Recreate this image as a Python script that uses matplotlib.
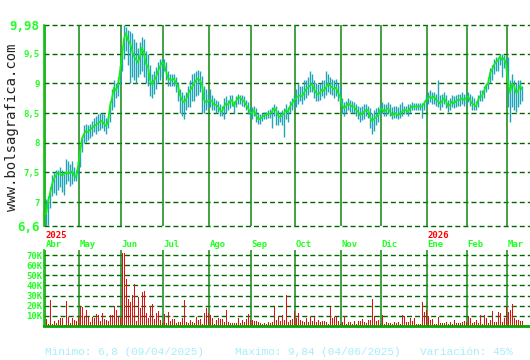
import numpy as np
import matplotlib
matplotlib.use("Agg")
import matplotlib.pyplot as plt

# meses del grafico y numero de sesiones de cada uno
months = ["Abr", "May", "Jun", "Jul", "Ago", "Sep", "Oct", "Nov", "Dic", "Ene", "Feb", "Mar"]
month_days = [17, 21, 21, 23, 21, 22, 23, 20, 23, 20, 20, 8]
years = {"Abr": "2025", "Ene": "2026"}

# cierres diarios
close = [
    6.8, 7.0, 7.15, 7.3, 7.4, 7.45, 7.5, 7.48, 7.45, 7.47, 7.5, 7.48, 7.5, 7.52, 7.45, 7.42, 7.6,
    7.84, 8.07, 8.15, 8.2, 8.18, 8.22, 8.25, 8.28, 8.3, 8.33, 8.35, 8.37, 8.32, 8.28, 8.35, 8.62, 8.75, 8.93, 8.88, 8.97, 9.2,
    9.48, 9.75, 9.84, 9.72, 9.68, 9.55, 9.45, 9.4, 9.35, 9.45, 9.6, 9.5, 9.32, 9.28, 9.05, 8.98, 9.05, 9.1, 9.2, 9.28, 9.35,
    9.33, 9.2, 9.08, 9.07, 9.05, 9.08, 9.0, 8.95, 8.8, 8.72, 8.68, 8.72, 8.82, 8.88, 8.93, 9.0, 9.05, 9.08, 9.05, 8.97, 8.72, 8.68, 8.7,
    8.72, 8.7, 8.64, 8.64, 8.61, 8.55, 8.52, 8.61, 8.66, 8.64, 8.7, 8.72, 8.61, 8.7, 8.76, 8.76, 8.72, 8.7, 8.64, 8.58, 8.52,
    8.49, 8.55, 8.46, 8.4, 8.4, 8.43, 8.46, 8.46, 8.49, 8.49, 8.52, 8.58, 8.55, 8.46, 8.43, 8.46, 8.49, 8.55, 8.52, 8.61, 8.66, 8.72,
    8.75, 8.78, 8.8, 8.78, 8.84, 8.9, 8.93, 8.96, 8.99, 8.9, 8.84, 8.81, 8.84, 8.9, 8.87, 8.93, 8.99, 8.96, 8.93, 8.9, 8.93, 8.84, 8.78,
    8.64, 8.58, 8.61, 8.66, 8.64, 8.61, 8.61, 8.55, 8.52, 8.46, 8.49, 8.52, 8.55, 8.55, 8.43, 8.37, 8.4, 8.43, 8.46, 8.55,
    8.58, 8.52, 8.55, 8.58, 8.52, 8.46, 8.49, 8.49, 8.46, 8.49, 8.52, 8.55, 8.55, 8.52, 8.58, 8.61, 8.61, 8.61, 8.61, 8.61, 8.61, 8.66, 8.72,
    8.75, 8.78, 8.75, 8.78, 8.72, 8.7, 8.66, 8.7, 8.75, 8.7, 8.61, 8.64, 8.7, 8.66, 8.7, 8.72, 8.72, 8.75, 8.72, 8.75,
    8.78, 8.72, 8.66, 8.64, 8.61, 8.72, 8.78, 8.78, 8.87, 8.96, 8.99, 9.17, 9.23, 9.31, 9.36, 9.39, 9.45, 9.39, 9.42, 9.33,
    9.02, 8.84, 8.99, 8.96, 8.84, 8.87, 8.96, 8.9,
]
high = [
    7.05, 7.1, 7.25, 7.45, 7.5, 7.55, 7.55, 7.6, 7.55, 7.5, 7.72, 7.7, 7.65, 7.7, 7.6, 7.55, 7.7,
    7.9, 8.12, 8.3, 8.32, 8.3, 8.32, 8.36, 8.42, 8.45, 8.48, 8.5, 8.5, 8.48, 8.42, 8.45, 8.7, 8.9, 9.05, 9.0, 9.1, 9.3,
    9.6, 9.98, 9.95, 9.9, 9.88, 9.85, 9.75, 9.7, 9.6, 9.7, 9.78, 9.75, 9.55, 9.5, 9.3, 9.15, 9.2, 9.28, 9.35, 9.4, 9.42,
    9.4, 9.35, 9.2, 9.15, 9.15, 9.15, 9.1, 9.02, 8.9, 8.85, 8.8, 8.85, 8.95, 9.05, 9.15, 9.18, 9.2, 9.22, 9.2, 9.12, 8.95, 8.9, 8.82,
    8.9, 8.8, 8.75, 8.72, 8.7, 8.65, 8.62, 8.75, 8.78, 8.72, 8.8, 8.8, 8.7, 8.78, 8.82, 8.8, 8.8, 8.78, 8.72, 8.68, 8.6,
    8.6, 8.62, 8.58, 8.5, 8.48, 8.5, 8.52, 8.52, 8.55, 8.56, 8.6, 8.65, 8.62, 8.55, 8.52, 8.55, 8.58, 8.65, 8.6, 8.7, 8.75, 8.8,
    8.9, 9.0, 8.95, 8.95, 9.05, 9.05, 9.1, 9.2, 9.15, 9.05, 9.0, 8.98, 9.0, 9.05, 9.05, 9.2, 9.15, 9.1, 9.08, 9.05, 9.08, 9.0, 8.95,
    8.75, 8.68, 8.7, 8.75, 8.72, 8.7, 8.68, 8.65, 8.62, 8.6, 8.62, 8.65, 8.65, 8.62, 8.58, 8.5, 8.55, 8.58, 8.6, 8.65,
    8.68, 8.65, 8.65, 8.68, 8.65, 8.6, 8.62, 8.62, 8.6, 8.65, 8.68, 8.62, 8.62, 8.65, 8.65, 8.68, 8.66, 8.66, 8.66, 8.66, 8.66, 8.7, 8.8,
    8.85, 8.88, 8.85, 8.85, 8.82, 9.05, 8.8, 8.82, 8.85, 8.8, 8.72, 8.75, 8.8, 8.78, 8.8, 8.82, 8.82, 8.85, 8.82, 8.82,
    8.85, 8.82, 8.78, 8.75, 8.7, 8.8, 8.88, 8.88, 8.95, 9.0, 9.1, 9.25, 9.3, 9.4, 9.45, 9.45, 9.5, 9.5, 9.48, 9.45,
    9.45, 9.05, 9.15, 9.05, 9.0, 9.05, 9.05, 8.95,
]
low = [
    6.6, 6.62, 6.9, 7.1, 7.15, 7.12, 7.2, 7.25, 7.18, 7.12, 7.3, 7.35, 7.28, 7.3, 7.35, 7.36, 7.4,
    7.6, 7.85, 8.0, 8.02, 8.05, 8.08, 8.12, 8.18, 8.15, 8.2, 8.22, 8.25, 8.2, 8.15, 8.25, 8.35, 8.55, 8.6, 8.75, 8.78, 8.95,
    9.2, 9.4, 9.55, 9.3, 9.0, 9.1, 9.05, 9.0, 9.1, 9.15, 9.2, 9.1, 9.0, 8.95, 8.78, 8.75, 8.82, 8.9, 9.0, 9.05, 9.1,
    9.2, 9.05, 8.95, 8.95, 8.95, 8.95, 8.85, 8.7, 8.5, 8.45, 8.4, 8.55, 8.6, 8.6, 8.7, 8.7, 8.78, 8.8, 8.85, 8.5, 8.5, 8.55, 8.6,
    8.6, 8.55, 8.55, 8.5, 8.52, 8.45, 8.45, 8.4, 8.5, 8.55, 8.58, 8.62, 8.5, 8.6, 8.65, 8.65, 8.62, 8.6, 8.55, 8.48, 8.42,
    8.4, 8.45, 8.35, 8.32, 8.32, 8.36, 8.4, 8.4, 8.42, 8.42, 8.25, 8.45, 8.3, 8.3, 8.35, 8.3, 8.1, 8.4, 8.35, 8.5, 8.55, 8.6,
    8.6, 8.65, 8.7, 8.65, 8.72, 8.75, 8.8, 8.85, 8.85, 8.75, 8.7, 8.7, 8.72, 8.78, 8.75, 8.8, 8.85, 8.82, 8.8, 8.75, 8.78, 8.7, 8.65,
    8.5, 8.45, 8.5, 8.55, 8.52, 8.5, 8.5, 8.45, 8.4, 8.35, 8.38, 8.4, 8.45, 8.42, 8.25, 8.15, 8.2, 8.3, 8.35, 8.45,
    8.5, 8.45, 8.45, 8.48, 8.45, 8.4, 8.42, 8.42, 8.4, 8.42, 8.45, 8.48, 8.48, 8.45, 8.5, 8.55, 8.55, 8.55, 8.55, 8.55, 8.42, 8.55, 8.6,
    8.65, 8.68, 8.65, 8.65, 8.62, 8.6, 8.55, 8.6, 8.65, 8.58, 8.52, 8.55, 8.6, 8.58, 8.6, 8.62, 8.62, 8.65, 8.62, 8.65,
    8.68, 8.62, 8.55, 8.55, 8.55, 8.6, 8.7, 8.7, 8.75, 8.85, 8.9, 9.0, 9.05, 9.15, 9.2, 9.2, 9.3, 9.1, 9.25, 9.2,
    8.6, 8.35, 8.6, 8.55, 8.52, 8.6, 8.65, 8.7,
]
# volumen en miles
volume = [
    7, 2, 26, 2, 5, 3, 6, 8, 8, 1, 25, 9, 3, 8, 6, 5, 9,
    19, 19, 10, 16, 9, 4, 9, 8, 12, 11, 5, 13, 7, 6, 5, 11, 11, 20, 16, 9, 8,
    72, 72, 46, 27, 24, 31, 41, 5, 29, 18, 34, 35, 13, 8, 20, 22, 7, 13, 15, 6, 3,
    12, 3, 14, 5, 7, 7, 3, 4, 4, 8, 26, 4, 3, 6, 4, 3, 9, 6, 7, 2, 13, 18, 13,
    11, 8, 2, 6, 8, 7, 7, 4, 16, 4, 3, 3, 3, 3, 8, 3, 6, 4, 7, 12, 6,
    6, 5, 5, 4, 3, 2, 3, 2, 4, 3, 4, 19, 6, 9, 5, 11, 6, 31, 4, 6, 7, 15,
    8, 13, 6, 5, 4, 8, 4, 9, 5, 9, 4, 6, 4, 5, 5, 4, 2, 19, 8, 9, 9, 5, 2,
    4, 10, 2, 4, 4, 2, 5, 2, 5, 5, 7, 4, 3, 6, 6, 27, 10, 5, 6, 2,
    11, 2, 4, 3, 3, 2, 4, 3, 4, 2, 11, 10, 4, 4, 8, 5, 8, 2, 2, 2, 24, 14, 16,
    10, 6, 7, 2, 2, 9, 3, 3, 3, 4, 2, 4, 2, 6, 3, 3, 3, 4, 5, 4,
    10, 8, 3, 4, 6, 3, 11, 2, 11, 8, 3, 6, 15, 4, 4, 14, 13, 4, 8, 20,
    14, 16, 22, 8, 6, 6, 5, 5,
]
price_ticks = [6.6, 7, 7.5, 8, 8.5, 9, 9.5, 9.98]
price_labels = ["6,6", "7", "7,5", "8", "8,5", "9", "9,5", "9,98"]
vol_ticks = [10, 20, 30, 40, 50, 60, 70]
vol_labels = ["10K", "20K", "30K", "40K", "50K", "60K", "70K"]

LIME = "#22ff22"
GRID = "#006600"
VLINE = "#118811"
MONO = "DejaVu Sans Mono"
DASH = (0, (3.6, 2.2))

W, H = 530, 360
fig = plt.figure(figsize=(W / 100, H / 100), dpi=100, facecolor="white")

x = np.arange(len(close))
starts = np.concatenate([[0], np.cumsum(month_days)[:-1]]) - 0.5

# panel de precios
ax = fig.add_axes([44 / W, (H - 226) / H, 486 / W, 201 / H])
ax.set_xlim(-1, 242)
ax.set_ylim(6.6, 9.98)
for t in price_ticks:
    ax.axhline(t, color=GRID, lw=1.0, ls=DASH, clip_on=False, zorder=1)
for s in starts:
    ax.axvline(s, color=VLINE, lw=1.1, zorder=1)
ax.vlines(x, low, high, color="#1fa5b5", lw=1.0, zorder=2)
ax.plot(x, close, color="#11ee11", lw=1.2, zorder=3)
for sp in ["top", "right", "bottom"]:
    ax.spines[sp].set_visible(False)
ax.spines["left"].set_color("#00cc00")
ax.spines["left"].set_linewidth(1.2)
ax.set_xticks([])
ax.set_yticks(price_ticks)
ax.set_yticklabels(price_labels)
ax.tick_params(axis="y", length=0, pad=3, labelcolor=LIME)
for lab in ax.get_yticklabels():
    lab.set_family(MONO)
    lab.set_fontsize(9 if lab.get_text() in ("9,98", "6,6") else 6.5)
    lab.set_fontweight("bold")

xt = ax.get_xaxis_transform()
for s, m in zip(starts, months):
    ax.text(s + 0.3, -0.091, m, transform=xt, color=LIME, fontsize=6.5, family=MONO,
            ha="left", va="center", fontweight="bold")
    if m in years:
        ax.text(s + 0.3, -0.045, years[m], transform=xt, color="#ff0000", fontsize=6.5,
                family=MONO, ha="left", va="center", fontweight="bold")

# panel de volumen
axv = fig.add_axes([44 / W, (H - 326) / H, 486 / W, 76 / H])
axv.set_xlim(-1, 242)
axv.set_ylim(0, 75)
for t in vol_ticks:
    axv.axhline(t, color=GRID, lw=1.0, ls=DASH, zorder=1)
for s in starts:
    axv.axvline(s, color=VLINE, lw=1.1, zorder=1)
axv.bar(x, volume, width=0.5, color="#e01010", zorder=2)
for sp in ["top", "right"]:
    axv.spines[sp].set_visible(False)
axv.spines["left"].set_color("#00cc00")
axv.spines["left"].set_linewidth(1.2)
axv.spines["bottom"].set_color("#00aa00")
axv.spines["bottom"].set_linewidth(2)
axv.set_xticks([])
axv.set_yticks(vol_ticks)
axv.set_yticklabels(vol_labels)
axv.tick_params(axis="y", length=0, pad=1, labelcolor=LIME, labelsize=6.5)
for lab in axv.get_yticklabels():
    lab.set_family(MONO)
    lab.set_fontweight("bold")

# marca de agua y resumen
fig.text(12 / W, (H - 127) / H, "www.bolsagrafica.com", rotation=90, family=MONO,
         fontsize=10, color="#222222", ha="center", va="center")
info = "#a8eef8"
fig.text(45 / W, (H - 352) / H, "Minimo: 6,8 (09/04/2025)", family="Liberation Mono",
         fontsize=8, color=info, va="center")
fig.text(235 / W, (H - 352) / H, "Maximo: 9,84 (04/06/2025)", family="Liberation Mono",
         fontsize=8, color=info, va="center")
fig.text(420 / W, (H - 352) / H, "Variación: 45%", family="Liberation Mono",
         fontsize=8, color=info, va="center")

fig.savefig("out.png", dpi=100, facecolor="white")
